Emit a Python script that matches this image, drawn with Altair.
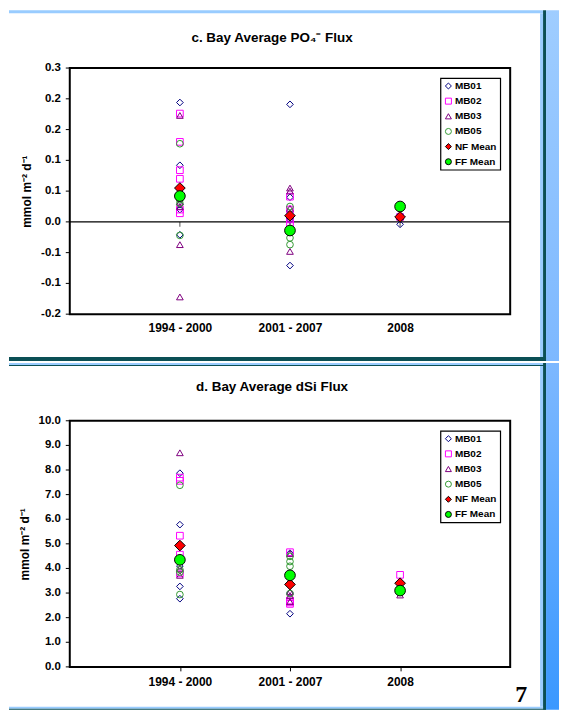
import altair as alt
import pandas as pd

# ---------------- data ----------------
CATEGORIES = ["1994 - 2000", "2001 - 2007", "2008"]
SERIES = ["MB01", "MB02", "MB03", "MB05", "NF Mean", "FF Mean"]
SHAPES = ["diamond", "square", "triangle-up", "circle", "diamond", "circle"]
STROKES = ["#000080", "#FF00FF", "#800080", "#339933", "#000000", "#000000"]
FILLS = ["transparent", "transparent", "transparent", "transparent", "#FF0000", "#00FF00"]

# PO4 flux: one list per period, in CATEGORIES order
PO4_MB01 = [[0.194, 0.092, 0.028, 0.020, -0.021], [0.191, 0.040, 0.003, -0.071], [-0.004]]
PO4_MB02 = [[0.176, 0.130, 0.084, 0.070, 0.020, 0.014], [0.041, 0.020, 0.004, -0.004], [0.008]]
PO4_MB03 = [[0.173, 0.032, 0.025, -0.037, -0.122], [0.055, 0.050, 0.022, 0.010, -0.048], [0.008]]
PO4_MB05 = [[0.127, 0.036, 0.030, -0.022], [0.025, -0.026, -0.037], [0.025]]
PO4_NF = [[0.055], [0.010], [0.008]]
PO4_FF = [[0.042], [-0.014], [0.025]]

# dSi flux
DSI_MB01 = [[7.87, 5.78, 4.10, 3.27, 2.77], [4.62, 3.00, 2.16], [3.40]]
DSI_MB02 = [[7.69, 7.56, 5.33, 4.56, 3.80], [4.66, 2.70, 2.62, 2.56], [3.74]]
DSI_MB03 = [[8.70, 4.45, 4.00, 3.72], [4.60, 3.05, 2.90, 2.65], [2.92]]
DSI_MB05 = [[7.38, 3.95, 3.85, 2.94], [4.49, 4.28, 4.09, 2.98], [3.15]]
DSI_NF = [[4.93], [3.35], [3.40]]
DSI_FF = [[4.35], [3.72], [3.10]]

PO4_TICKS = [-0.15, -0.10, -0.05, 0.0, 0.05, 0.10, 0.15, 0.20, 0.25]
PO4_TICK_LABELS = ["-0.2", "-0.1", "-0.1", "0.0", "0.1", "0.1", "0.2", "0.2", "0.3"]
DSI_TICKS = [0, 1, 2, 3, 4, 5, 6, 7, 8, 9, 10]
DSI_TICK_LABELS = ["0.0", "1.0", "2.0", "3.0", "4.0", "5.0", "6.0", "7.0", "8.0", "9.0", "10.0"]

TITLE_TOP = "c. Bay Average PO\u2084\u207b Flux"
TITLE_BOTTOM = "d. Bay Average dSi Flux"
Y_TITLE = "mmol m\u207b\u00b2 d\u207b\u00b9"
PAGE_NUMBER = "7"

FONT = "Liberation Sans"
W, H = 442, 247

LIGHT = "#99CCFF"
TEAL = "#0B4F55"


def to_frame(series_lists):
    rows = []
    for name, lists in zip(SERIES, series_lists):
        for cat, vals in zip(CATEGORIES, lists):
            for v in vals:
                rows.append({"series": name, "period": cat, "value": v})
    return pd.DataFrame(rows)


po4_df = to_frame([PO4_MB01, PO4_MB02, PO4_MB03, PO4_MB05, PO4_NF, PO4_FF])
dsi_df = to_frame([DSI_MB01, DSI_MB02, DSI_MB03, DSI_MB05, DSI_NF, DSI_FF])
cat_df = pd.DataFrame({"period": CATEGORIES})
ONE = pd.DataFrame({"k": [0]})


def band(x, x2, y, y2, fill):
    return alt.Chart(ONE).mark_rect(fill=fill, stroke=None).encode(
        x=alt.value(x), x2=alt.value(x2), y=alt.value(y), y2=alt.value(y2)
    )


def grad(c1, c2):
    return alt.LinearGradient(
        gradient="linear",
        stops=[alt.GradientStop(color=c1, offset=0), alt.GradientStop(color=c2, offset=1)],
        x1=0, x2=0, y1=0, y2=1,
    )


def panel(df, title, title_y, domain, ticks, tick_labels, top):
    legend = alt.Legend(
        title=None, orient="none", legendX=372, legendY=10,
        fillColor="white", strokeColor="black", padding=3, rowPadding=5.2,
        labelFont=FONT, labelFontSize=10, labelFontWeight="bold", labelColor="black",
        symbolSize=36, symbolStrokeWidth=1, labelOffset=1.5,
    )
    x = alt.X(
        "period:N", sort=CATEGORIES,
        scale=alt.Scale(type="point", padding=1),
        axis=alt.Axis(
            title=None, labelAngle=0, labelFont=FONT, labelFontSize=12,
            labelFontWeight="bold", labelColor="black",
            ticks=not top, tickSize=0 if top else 4, tickColor="black",
            labelPadding=8 if top else 6, domain=False,
        ),
    )
    yscale = alt.Scale(domain=domain, nice=False, zero=False)
    y = alt.Y("value:Q", scale=yscale,
              axis=alt.Axis(title=Y_TITLE, titleFont=FONT, titleFontSize=12,
                            titleFontWeight="bold", titleColor="black",
                            titlePadding=36 if top else 38,
                            labels=False, ticks=False, domain=False, grid=False))

    tick_df = pd.DataFrame({"value": ticks, "label": tick_labels})
    ylabels = alt.Chart(tick_df).mark_text(
        font=FONT, fontSize=11.5, fontWeight="bold", color="black",
        align="right", baseline="middle",
    ).encode(x=alt.value(-9), y=alt.Y("value:Q", scale=yscale), text="label:N")
    yticks = alt.Chart(tick_df).mark_rule(color="black", strokeWidth=1).encode(
        x=alt.value(-4), x2=alt.value(0), y=alt.Y("value:Q", scale=yscale)
    )

    pts = alt.Chart(df).mark_point(filled=False, opacity=1, strokeWidth=1).encode(
        x=x, y=y,
        shape=alt.Shape("series:N", scale=alt.Scale(domain=SERIES, range=SHAPES), legend=legend),
        stroke=alt.Stroke("series:N", scale=alt.Scale(domain=SERIES, range=STROKES), legend=legend),
        fill=alt.Fill("series:N", scale=alt.Scale(domain=SERIES, range=FILLS), legend=legend),
        size=alt.condition("datum.series == 'NF Mean' || datum.series == 'FF Mean'",
                           alt.value(115), alt.value(45)),
    )

    ttl = alt.Chart(pd.DataFrame({"t": [title]})).mark_text(
        font=FONT, fontSize=13.5, fontWeight="bold", color="black",
        align="center", baseline="middle",
    ).encode(x=alt.value(203), y=alt.value(title_y), text="t:N")

    layers = []
    if top:
        layers += [
            band(-61, 475, -58, -55, LIGHT),
            band(472, 475, -55, 290, LIGHT),
            band(475, 478, -58, 294, TEAL),
            band(478, 491, -58, 294, grad("#9FCDFF", "#7DB8FF")),
            band(-61, 478, 290, 294, TEAL),
        ]
    else:
        layers += [
            band(-61, 475, -58, -56, LIGHT),
            band(-61, 478, -56, -55, TEAL),
            band(472, 475, -55, 287, LIGHT),
            band(475, 478, -58, 290, TEAL),
            band(478, 491, -58, 290, grad("#7DB8FF", "#3A98FF")),
            band(-61, 475, 287, 289, LIGHT),
            band(-61, 478, 289, 290, TEAL),
        ]
    layers += [yticks, ylabels]
    if top:
        zero = alt.Chart(ONE).mark_rule(color="black", strokeWidth=1.5).encode(
            y=alt.Y("z:Q", scale=yscale)
        ).transform_calculate(z="0")
        zt = alt.Chart(cat_df).mark_tick(
            color="black", orient="vertical", size=5, thickness=1, yOffset=2.5
        ).encode(x=x, y=alt.datum(0))
        layers += [zero, zt]
    else:
        pn = alt.Chart(pd.DataFrame({"t": [PAGE_NUMBER]})).mark_text(
            font="Liberation Serif", fontSize=24, fontWeight="bold", color="black",
            align="center", baseline="middle",
        ).encode(x=alt.value(453), y=alt.value(275), text="t:N")
        layers.append(pn)
    layers += [ttl, pts]
    return alt.layer(*layers).properties(width=W, height=H)


top = panel(po4_df, TITLE_TOP, -30, [-0.15, 0.25], PO4_TICKS, PO4_TICK_LABELS, True)
bottom = panel(dsi_df, TITLE_BOTTOM, -34, [0, 10], DSI_TICKS, DSI_TICK_LABELS, False)

chart = (
    alt.vconcat(top, bottom, spacing=0)
    .resolve_scale(shape="independent", stroke="independent", fill="independent")
    .properties(padding=0, background="white")
    .configure_view(stroke="black", strokeWidth=2)
    .configure_legend(strokeWidth=1.2)
)

chart.save("out.html", embed_options={"renderer": "svg", "actions": False})
